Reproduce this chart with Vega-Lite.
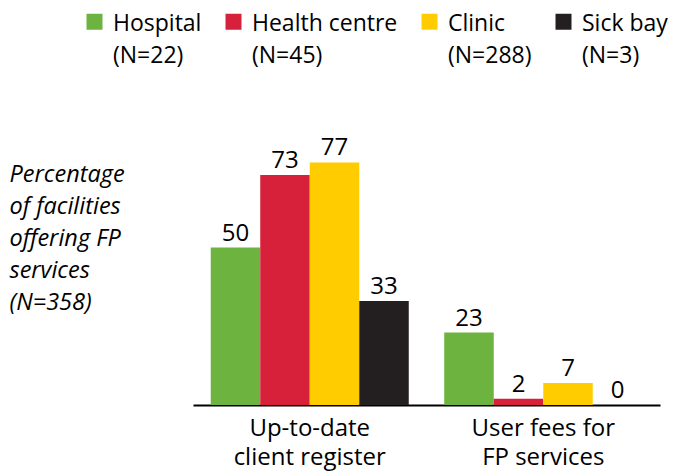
{
  "$schema": "https://vega.github.io/schema/vega-lite/v6.json",
  "width": 467,
  "height": 315,
  "autosize": "none",
  "padding": {"left": 193, "top": 90, "right": 14, "bottom": 66},
  "background": "white",
  "config": {
    "view": {"stroke": null},
    "font": "Open Sans",
    "text": {"font": "Open Sans"},
    "style": {"guide-label": {"lineHeight": 32, "dy": -9}}
  },
  "data": {
    "values": [
      {"category": "Up-to-date client register", "facility": "Hospital|(N=22)", "value": 50},
      {"category": "Up-to-date client register", "facility": "Health centre|(N=45)", "value": 73},
      {"category": "Up-to-date client register", "facility": "Clinic|(N=288)", "value": 77},
      {"category": "Up-to-date client register", "facility": "Sick bay|(N=3)", "value": 33},
      {"category": "User fees for FP services", "facility": "Hospital|(N=22)", "value": 23},
      {"category": "User fees for FP services", "facility": "Health centre|(N=45)", "value": 2},
      {"category": "User fees for FP services", "facility": "Clinic|(N=288)", "value": 7},
      {"category": "User fees for FP services", "facility": "Sick bay|(N=3)", "value": 0}
    ]
  },
  "encoding": {
    "x": {
      "field": "category",
      "type": "nominal",
      "sort": ["Up-to-date client register", "User fees for FP services"],
      "scale": {"paddingInner": 0.152, "paddingOuter": 0.076},
      "axis": {
        "title": null,
        "labelAngle": 0,
        "ticks": false,
        "domainColor": "black",
        "domainWidth": 2,
        "labelColor": "black",
        "labelFontSize": 24,
        "labelFont": "Open Sans",
        "labelPadding": 20,
        "labelLineHeight": 29,
        "labelBaseline": "top",
        "labelExpr": "datum.label == 'Up-to-date client register' ? ['Up-to-date', 'client register'] : ['User fees for', 'FP services']"
      }
    },
    "xOffset": {
      "field": "facility",
      "type": "nominal",
      "sort": ["Hospital|(N=22)", "Health centre|(N=45)", "Clinic|(N=288)", "Sick bay|(N=3)"],
      "scale": {"paddingInner": 0, "paddingOuter": 0}
    },
    "y": {
      "field": "value",
      "type": "quantitative",
      "scale": {"domain": [0, 100]},
      "axis": {
        "grid": false,
        "ticks": false,
        "labels": false,
        "domain": false,
        "title": ["Percentage", "of facilities", "offering FP", "services", "(N=358)"],
        "titleAngle": 0,
        "titleAlign": "left",
        "titleBaseline": "top",
        "titleX": -184,
        "titleY": 72,
        "titleFont": "Open Sans",
        "titleFontStyle": "italic",
        "titleFontWeight": "normal",
        "titleFontSize": 23.5,
        "titleLineHeight": 32.2,
        "titleColor": "black"
      }
    }
  },
  "layer": [
    {
      "mark": {"type": "bar"},
      "encoding": {
        "color": {
          "field": "facility",
          "type": "nominal",
          "sort": ["Hospital|(N=22)", "Health centre|(N=45)", "Clinic|(N=288)", "Sick bay|(N=3)"],
          "scale": {
            "domain": ["Hospital|(N=22)", "Health centre|(N=45)", "Clinic|(N=288)", "Sick bay|(N=3)"],
            "range": ["#6DB33F", "#D7213A", "#FFCC00", "#231F20"]
          },
          "legend": {
            "title": null,
            "orient": "none",
            "direction": "horizontal",
            "legendX": -110,
            "legendY": -80,
            "symbolType": "square",
            "symbolSize": 256,
            "symbolStrokeWidth": 0,
            "labelOffset": 7,
            "columnPadding": 20,
            "labelFontSize": 23,
            "labelFont": "Open Sans",
            "labelColor": "black",
            "labelLimit": 300,
            "labelBaseline": "top",
            "labelExpr": "split(datum.label, '|')"
          }
        }
      }
    },
    {
      "mark": {"type": "text", "baseline": "alphabetic", "dy": -7, "fontSize": 24, "color": "black", "font": "Open Sans"},
      "encoding": {
        "text": {"field": "value", "type": "quantitative"}
      }
    }
  ]
}
